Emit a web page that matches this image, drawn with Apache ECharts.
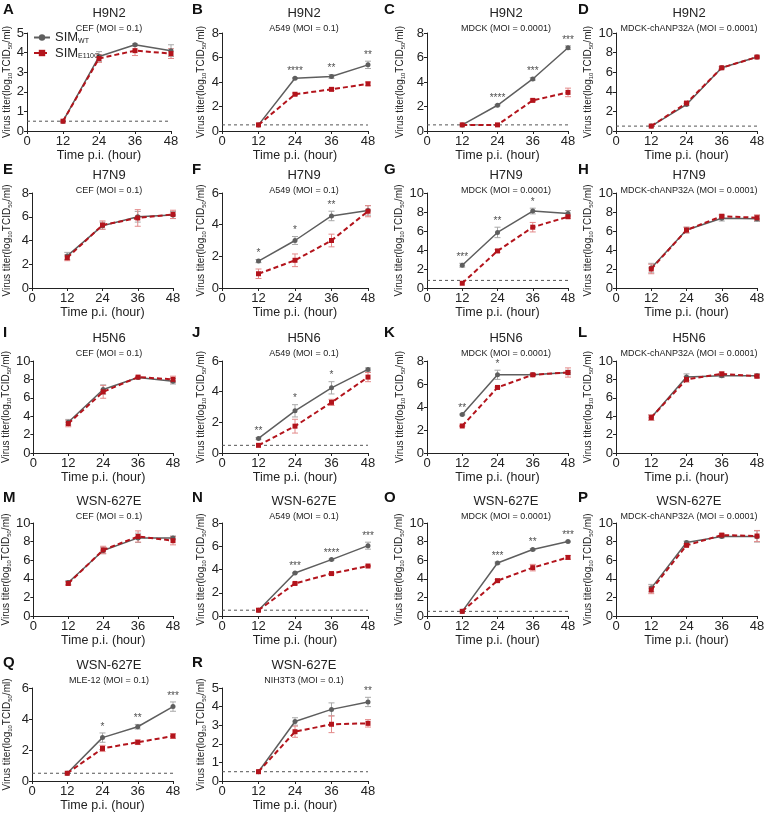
<!DOCTYPE html>
<html><head><meta charset="utf-8">
<script src="https://cdn.jsdelivr.net/npm/echarts@6/dist/echarts.min.js"></script>
<style>html,body{margin:0;padding:0;background:#fff}#c{width:771px;height:815px}</style>
</head><body><div id="c"></div>
<script>
// ---------- DATA ----------
const panelLetters = ['A','B','C','D','E','F','G','H','I','J','K','L','M','N','O','P','Q','R'];
const strains = ['H9N2','H9N2','H9N2','H9N2','H7N9','H7N9','H7N9','H7N9','H5N6','H5N6','H5N6','H5N6',
  'WSN-627E','WSN-627E','WSN-627E','WSN-627E','WSN-627E','WSN-627E'];
const cellLines = [
  'CEF (MOI = 0.1)','A549 (MOI = 0.1)','MDCK (MOI = 0.0001)','MDCK-chANP32A (MOI = 0.0001)',
  'CEF (MOI = 0.1)','A549 (MOI = 0.1)','MDCK (MOI = 0.0001)','MDCK-chANP32A (MOI = 0.0001)',
  'CEF (MOI = 0.1)','A549 (MOI = 0.1)','MDCK (MOI = 0.0001)','MDCK-chANP32A (MOI = 0.0001)',
  'CEF (MOI = 0.1)','A549 (MOI = 0.1)','MDCK (MOI = 0.0001)','MDCK-chANP32A (MOI = 0.0001)',
  'MLE-12 (MOI = 0.1)','NIH3T3 (MOI = 0.1)'];
const hours = [12, 24, 36, 48];
const xTicks = [0, 12, 24, 36, 48];
const yMax  = [5,8,8,10, 8,6,10,10, 10,6,8,10, 10,8,10,10, 6,5];
const yStep = [1,2,2,2,  2,2,2,2,   2,2,2,2,   2,2,2,2,   2,1];
const seriesNames = ['SIM_WT', 'SIM_E110G'];
const wtMean = [
  [0.5,3.8,4.4,4.1],[0.5,4.3,4.45,5.4],[0.5,2.1,4.25,6.8],[0.5,2.7,6.45,7.55],
  [2.7,5.25,6.0,6.15],[1.7,3.0,4.55,4.9],[2.4,5.85,8.1,7.85],[2.1,6.1,7.35,7.3],
  [3.35,6.9,8.2,7.8],[0.95,2.75,4.25,5.45],[3.35,6.8,6.8,7.0],[3.85,8.25,8.4,8.4],
  [3.6,7.05,8.4,8.4],[0.5,3.7,4.85,6.05],[0.5,5.7,7.15,8.0],[3.0,7.9,8.55,8.55],
  [0.5,2.8,3.5,4.8],[0.5,3.2,3.85,4.25]];
const wtErr = [
  [0,0.25,0.05,0.3],[0,0.05,0.15,0.3],[0,0.05,0.1,0.15],[0,0.1,0.1,0.1],
  [0.3,0.3,0.45,0.3],[0.1,0.25,0.3,0.3],[0.2,0.55,0.3,0.3],[0.5,0.3,0.3,0.3],
  [0.3,0.5,0.1,0.3],[0.05,0.4,0.4,0.1],[0.05,0.4,0.1,0.2],[0.3,0.35,0.2,0.2],
  [0.2,0.35,0.5,0.2],[0,0.05,0.05,0.3],[0,0.1,0.1,0.05],[0.4,0.15,0.15,0.6],
  [0,0.3,0.15,0.3],[0,0.2,0.35,0.25]];
const mutMean = [
  [0.5,3.7,4.1,3.95],[0.5,3.0,3.4,3.85],[0.5,0.5,2.5,3.15],[0.5,2.85,6.45,7.55],
  [2.55,5.3,5.9,6.2],[0.9,1.75,3.0,4.85],[0.5,3.9,6.4,7.5],[2.0,6.1,7.55,7.4],
  [3.2,6.65,8.25,8.0],[0.5,1.75,3.3,4.95],[2.35,5.7,6.8,7.0],[3.85,8.0,8.6,8.35],
  [3.5,7.1,8.55,8.1],[0.5,2.8,3.65,4.3],[0.5,3.8,5.2,6.3],[2.8,7.6,8.7,8.6],
  [0.5,2.1,2.5,2.9],[0.5,2.65,3.05,3.1]];
const mutErr = [
  [0,0.2,0.25,0.25],[0,0.1,0.1,0.15],[0,0,0.1,0.35],[0,0.1,0.1,0.1],
  [0.25,0.35,0.7,0.35],[0.3,0.4,0.4,0.35],[0,0.15,0.5,0.15],[0.5,0.3,0.2,0.3],
  [0.35,0.7,0.1,0.35],[0,0.45,0.2,0.3],[0.05,0.05,0.1,0.4],[0.3,0.3,0.2,0.2],
  [0.2,0.4,0.6,0.45],[0,0.05,0.05,0.05],[0,0.1,0.35,0.2],[0.4,0.15,0.15,0.6],
  [0,0.2,0.15,0.15],[0,0.3,0.45,0.2]];
const detectionLimit = [0.5,0.5,0.5,0.5, null,null,0.8,null, null,0.5,null,null, null,0.5,0.5,null, 0.5,0.5];
const stars = [
  ['','','',''],['','****','**','**'],['','****','***','***'],['','','',''],
  ['','','',''],['*','*','**',''],['***','**','*',''],['','','',''],
  ['','','',''],['**','*','*',''],['**','*','',''],['','','',''],
  ['','','',''],['','***','****','***'],['','***','**','***'],['','','',''],
  ['','*','**','***'],['','','','**']];

// ---------- LAYOUT ----------
const FONT = '"Liberation Sans", Arial, Helvetica, sans-serif';
const TXT = '#222';
const WT_COLOR = '#5e5e5e', MUT_COLOR = '#b3141c';
const WT_ERR = '#a8a8a8', MUT_ERR = '#e38a8a';
const colLeft = [32, 222, 427, 616];
const colW = [141, 146, 141, 141];
const rowTop = [33, 193, 361, 523, 688];
const rowH = [98, 95, 92, 93, 93];
const yNameCenter = [7, 201, 400, 590];
const letterX = [3, 192, 384, 578];
const letterY = [10, 170, 333, 498, 663];
const titleX = [109, 304, 506, 689];
const titleY = [13, 175, 338, 501, 665];

const chart = echarts.init(document.getElementById('c'), null, {renderer: 'canvas', width: 771, height: 815});
const grids = [], xAxes = [], yAxes = [], series = [], graphics = [];

function errRender(color) {
  return function (params, api) {
    const x = api.value(0), lo = api.value(1), hi = api.value(2);
    const p1 = api.coord([x, lo]), p2 = api.coord([x, hi]);
    const w = 3;
    const st = {stroke: color, lineWidth: 1};
    return {type: 'group', children: [
      {type: 'line', shape: {x1: p1[0], y1: p1[1], x2: p2[0], y2: p2[1]}, style: st},
      {type: 'line', shape: {x1: p1[0] - w, y1: p1[1], x2: p1[0] + w, y2: p1[1]}, style: st},
      {type: 'line', shape: {x1: p2[0] - w, y1: p2[1], x2: p2[0] + w, y2: p2[1]}, style: st}
    ]};
  };
}

for (let i = 0; i < 18; i++) {
  const col = i % 4, row = Math.floor(i / 4);
  let left = colLeft[col], width = colW[col];
  if (i === 0) { left = 27; width = 144; }
  grids.push({left: left, top: rowTop[row], width: width, height: rowH[row]});
  xAxes.push({
    type: 'value', gridIndex: i, min: xTicks[0], max: xTicks[xTicks.length - 1], interval: 12,
    name: 'Time p.i. (hour)', nameLocation: 'middle', nameGap: 17,
    nameTextStyle: {fontSize: 12.5, color: TXT, fontFamily: FONT},
    axisLine: {show: true, onZero: false, lineStyle: {color: TXT, width: 1}},
    axisTick: {show: true, length: 3, lineStyle: {color: TXT}},
    axisLabel: {fontSize: 13, color: TXT, margin: 4, fontFamily: FONT},
    splitLine: {show: false}
  });
  yAxes.push({
    type: 'value', gridIndex: i, min: 0, max: yMax[i], interval: yStep[i],
    name: '{m|Virus titer(log}{s|10}{m|TCID}{s|50}{m|/ml)}',
    nameLocation: 'middle', nameGap: left - yNameCenter[col] - 6,
    nameTextStyle: {color: TXT, fontFamily: FONT, rich: {
      m: {fontSize: 10, lineHeight: 12, color: TXT, fontFamily: FONT},
      s: {fontSize: 6, lineHeight: 6, verticalAlign: 'bottom', color: TXT, fontFamily: FONT}
    }},
    axisLine: {show: true, lineStyle: {color: TXT, width: 1}},
    axisTick: {show: true, length: 3, lineStyle: {color: TXT}},
    axisLabel: {fontSize: 13, color: TXT, margin: 3, fontFamily: FONT},
    splitLine: {show: false}
  });
  if (detectionLimit[i] !== null) {
    series.push({type: 'line', xAxisIndex: i, yAxisIndex: i, silent: true, symbol: 'none', z: 1,
      data: [[xTicks[0], detectionLimit[i]], [xTicks[xTicks.length - 1], detectionLimit[i]]],
      lineStyle: {color: '#555', width: 1, type: [3, 3]}});
  }
  series.push({type: 'custom', xAxisIndex: i, yAxisIndex: i, silent: true, z: 2,
    renderItem: errRender(WT_ERR), encode: {x: 0, y: [1, 2]},
    data: hours.map((h, j) => [h, wtMean[i][j] - wtErr[i][j], wtMean[i][j] + wtErr[i][j]]).filter((d, j) => wtErr[i][j] > 0)});
  series.push({type: 'custom', xAxisIndex: i, yAxisIndex: i, silent: true, z: 2,
    renderItem: errRender(MUT_ERR), encode: {x: 0, y: [1, 2]},
    data: hours.map((h, j) => [h, mutMean[i][j] - mutErr[i][j], mutMean[i][j] + mutErr[i][j]]).filter((d, j) => mutErr[i][j] > 0)});
  series.push({type: 'line', name: seriesNames[0], xAxisIndex: i, yAxisIndex: i, z: 3,
    data: hours.map((h, j) => [h, wtMean[i][j]]),
    symbol: 'circle', symbolSize: 5, showAllSymbol: true,
    itemStyle: {color: WT_COLOR}, lineStyle: {color: WT_COLOR, width: 1.5}});
  series.push({type: 'line', name: seriesNames[1], xAxisIndex: i, yAxisIndex: i, z: 4,
    data: hours.map((h, j) => [h, mutMean[i][j]]),
    symbol: 'rect', symbolSize: 5, showAllSymbol: true,
    itemStyle: {color: MUT_COLOR}, lineStyle: {color: MUT_COLOR, width: 2, type: [5, 3]}});
  const sd = [];
  hours.forEach((h, j) => { if (stars[i][j]) sd.push({value: [h, wtMean[i][j] + wtErr[i][j]], mark: stars[i][j]}); });
  if (sd.length) {
    series.push({type: 'scatter', xAxisIndex: i, yAxisIndex: i, silent: true, z: 5,
      symbol: 'circle', symbolSize: 2, itemStyle: {color: 'rgba(0,0,0,0)'}, data: sd,
      label: {show: true, position: 'top', distance: 0, formatter: p => p.data.mark,
        fontSize: 10, color: TXT, fontFamily: FONT}});
  }
  graphics.push({type: 'text', x: letterX[col], y: letterY[row],
    style: {text: panelLetters[i], font: 'bold 15px ' + FONT, fill: '#111', textVerticalAlign: 'middle'}});
  graphics.push({type: 'text', x: titleX[col], y: titleY[row],
    style: {text: strains[i], font: '13px ' + FONT, fill: TXT, textAlign: 'center', textVerticalAlign: 'middle'}});
  graphics.push({type: 'text', x: titleX[col], y: titleY[row] + 16,
    style: {text: cellLines[i], font: '9px ' + FONT, fill: TXT, textAlign: 'center', textVerticalAlign: 'middle'}});
}

chart.setOption({
  animation: false,
  backgroundColor: '#fff',
  grid: grids, xAxis: xAxes, yAxis: yAxes, series: series,
  graphic: {elements: graphics},
  legend: {
    data: seriesNames, orient: 'vertical', left: 28, top: 26,
    itemWidth: 16, itemHeight: 8, itemGap: 2, selectedMode: false,
    formatter: n => n === 'SIM_WT' ? '{m|SIM}{s|WT}' : '{m|SIM}{s|E110G}',
    textStyle: {color: TXT, fontFamily: FONT, rich: {
      m: {fontSize: 13, lineHeight: 14, color: TXT, fontFamily: FONT},
      s: {fontSize: 7, lineHeight: 7, verticalAlign: 'bottom', color: TXT, fontFamily: FONT}
    }}
  }
});
</script></body></html>
